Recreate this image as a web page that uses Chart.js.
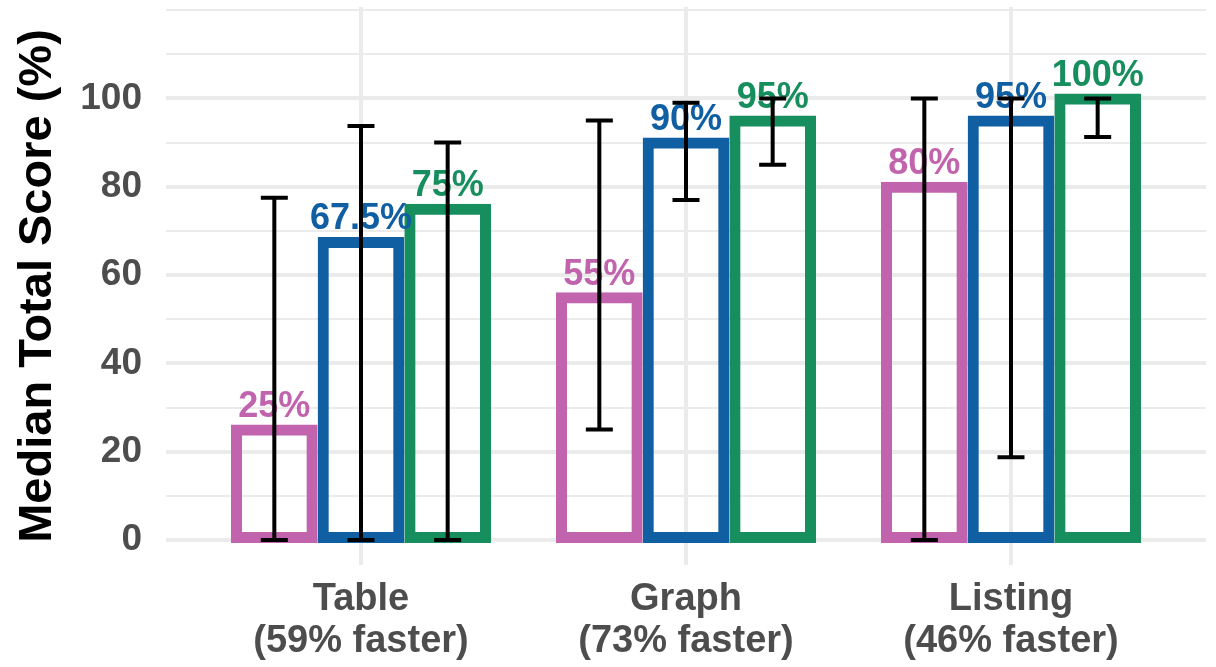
<!DOCTYPE html>
<html>
<head>
<meta charset="utf-8">
<script src="https://cdn.jsdelivr.net/npm/chart.js@4/dist/chart.umd.min.js"></script>
<style>
  html, body { margin: 0; padding: 0; background: #ffffff; }
  canvas { display: block; }
</style>
</head>
<body>
<canvas id="chart" width="1216" height="667"></canvas>
<script>
// Task categories and their speed-up notes (second line of each x label)
const categories = ['Table', 'Graph', 'Listing'];
const speedups = ['(59% faster)', '(73% faster)', '(46% faster)'];

// Median total score (%) per condition
const pinkValues  = [25, 55, 80];
const blueValues  = [67.5, 90, 95];
const greenValues = [75, 95, 100];

// Error bar ranges (low / high) per condition
const pinkLow   = [0, 25, 0];
const pinkHigh  = [77.5, 95, 100];
const blueLow   = [0, 77, 18.75];
const blueHigh  = [93.75, 99, 100];
const greenLow  = [0, 85, 91.25];
const greenHigh = [90, 100, 100];

// Axis ticks
const yGridTicks  = [0, 10, 20, 30, 40, 50, 60, 70, 80, 90, 100, 110, 120];
const yLabelTicks = [0, 20, 40, 60, 80, 100];

const FONT = '"Liberation Sans", Arial, Helvetica, sans-serif';
const PINK = '#c263ad', BLUE = '#0f5fa2', GREEN = '#168e5e';

function toPoints(values) {
  return values.map((v, i) => ({ x: i + 1, y: v }));
}

function makeDataset(name, values, low, high, color) {
  return {
    label: name,
    data: toPoints(values),
    errLow: low,
    errHigh: high,
    backgroundColor: 'rgba(0,0,0,0)',
    borderColor: color,
    borderWidth: 1,
    inflateAmount: 5,
    borderSkipped: false,
    categoryPercentage: 0.8,
    barPercentage: 0.8846
  };
}

// Percent labels above each bar
const valueLabels = {
  id: 'valueLabels',
  afterDatasetsDraw(chart) {
    const ctx = chart.ctx;
    const yScale = chart.scales.y;
    chart.data.datasets.forEach((ds, di) => {
      const meta = chart.getDatasetMeta(di);
      meta.data.forEach((bar, i) => {
        const v = ds.data[i].y;
        ctx.save();
        ctx.font = 'bold 36px ' + FONT;
        ctx.fillStyle = ds.borderColor;
        ctx.textAlign = 'center';
        ctx.textBaseline = 'alphabetic';
        ctx.fillText(String(v) + '%', bar.x, yScale.getPixelForValue(v) - 12.5);
        ctx.restore();
      });
    });
  }
};

// Black error bars centred on each bar
const errorBars = {
  id: 'errorBars',
  afterDatasetsDraw(chart) {
    const ctx = chart.ctx;
    const yScale = chart.scales.y;
    const capHalf = 13.5;
    chart.data.datasets.forEach((ds, di) => {
      const meta = chart.getDatasetMeta(di);
      meta.data.forEach((bar, i) => {
        const yLo = yScale.getPixelForValue(ds.errLow[i]);
        const yHi = yScale.getPixelForValue(ds.errHigh[i]);
        const x = bar.x;
        ctx.save();
        ctx.strokeStyle = '#000000';
        ctx.lineWidth = 4;
        ctx.lineCap = 'butt';
        ctx.beginPath();
        ctx.moveTo(x, yLo); ctx.lineTo(x, yHi);
        ctx.moveTo(x - capHalf, yLo); ctx.lineTo(x + capHalf, yLo);
        ctx.moveTo(x - capHalf, yHi); ctx.lineTo(x + capHalf, yHi);
        ctx.stroke();
        ctx.restore();
      });
    });
  }
};

new Chart(document.getElementById('chart'), {
  type: 'bar',
  data: {
    datasets: [
      makeDataset('Condition 1', pinkValues, pinkLow, pinkHigh, PINK),
      makeDataset('Condition 2', blueValues, blueLow, blueHigh, BLUE),
      makeDataset('Condition 3', greenValues, greenLow, greenHigh, GREEN)
    ]
  },
  options: {
    responsive: false,
    devicePixelRatio: 1,
    animation: false,
    layout: { padding: { top: 7, right: 10, left: 0, bottom: 0 } },
    plugins: {
      legend: { display: false },
      tooltip: { enabled: false }
    },
    scales: {
      x: {
        type: 'linear',
        min: 0.4,
        max: 3.6,
        offset: false,
        afterBuildTicks(scale) {
          scale.ticks = categories.map((c, i) => ({ value: i + 1 }));
        },
        afterFit(scale) {
          scale.height = 102;
          scale.paddingLeft = 0;
          scale.paddingRight = 0;
        },
        grid: {
          offset: false,
          color: '#ebebeb',
          lineWidth: 4,
          drawTicks: false
        },
        border: { display: false },
        ticks: {
          autoSkip: false,
          maxRotation: 0,
          minRotation: 0,
          padding: 14,
          color: '#4d4d4d',
          font: { family: FONT, size: 38, weight: 'bold', lineHeight: 1.105 },
          callback(value, index) {
            return [categories[index], speedups[index]];
          }
        }
      },
      y: {
        type: 'linear',
        min: -5.66,
        max: 120.7,
        afterBuildTicks(scale) {
          scale.ticks = yGridTicks.map(v => ({ value: v }));
        },
        afterFit(scale) {
          scale.width = 166;
          scale.paddingTop = 0;
          scale.paddingBottom = 0;
        },
        grid: {
          color: '#ebebeb',
          lineWidth: ctx => (yLabelTicks.includes(ctx.tick.value) ? 4 : 2),
          drawTicks: false
        },
        border: { display: false },
        ticks: {
          autoSkip: false,
          padding: 24,
          color: '#4d4d4d',
          font: { family: FONT, size: 37, weight: 'bold' },
          callback(value) {
            return yLabelTicks.includes(value) ? String(value) : '';
          }
        },
        title: {
          display: true,
          text: 'Median Total Score (%)',
          color: '#000000',
          font: { family: FONT, size: 47, weight: 'bold' },
          padding: { top: 10, bottom: 0 }
        }
      }
    }
  },
  plugins: [valueLabels, errorBars]
});
</script>
</body>
</html>
